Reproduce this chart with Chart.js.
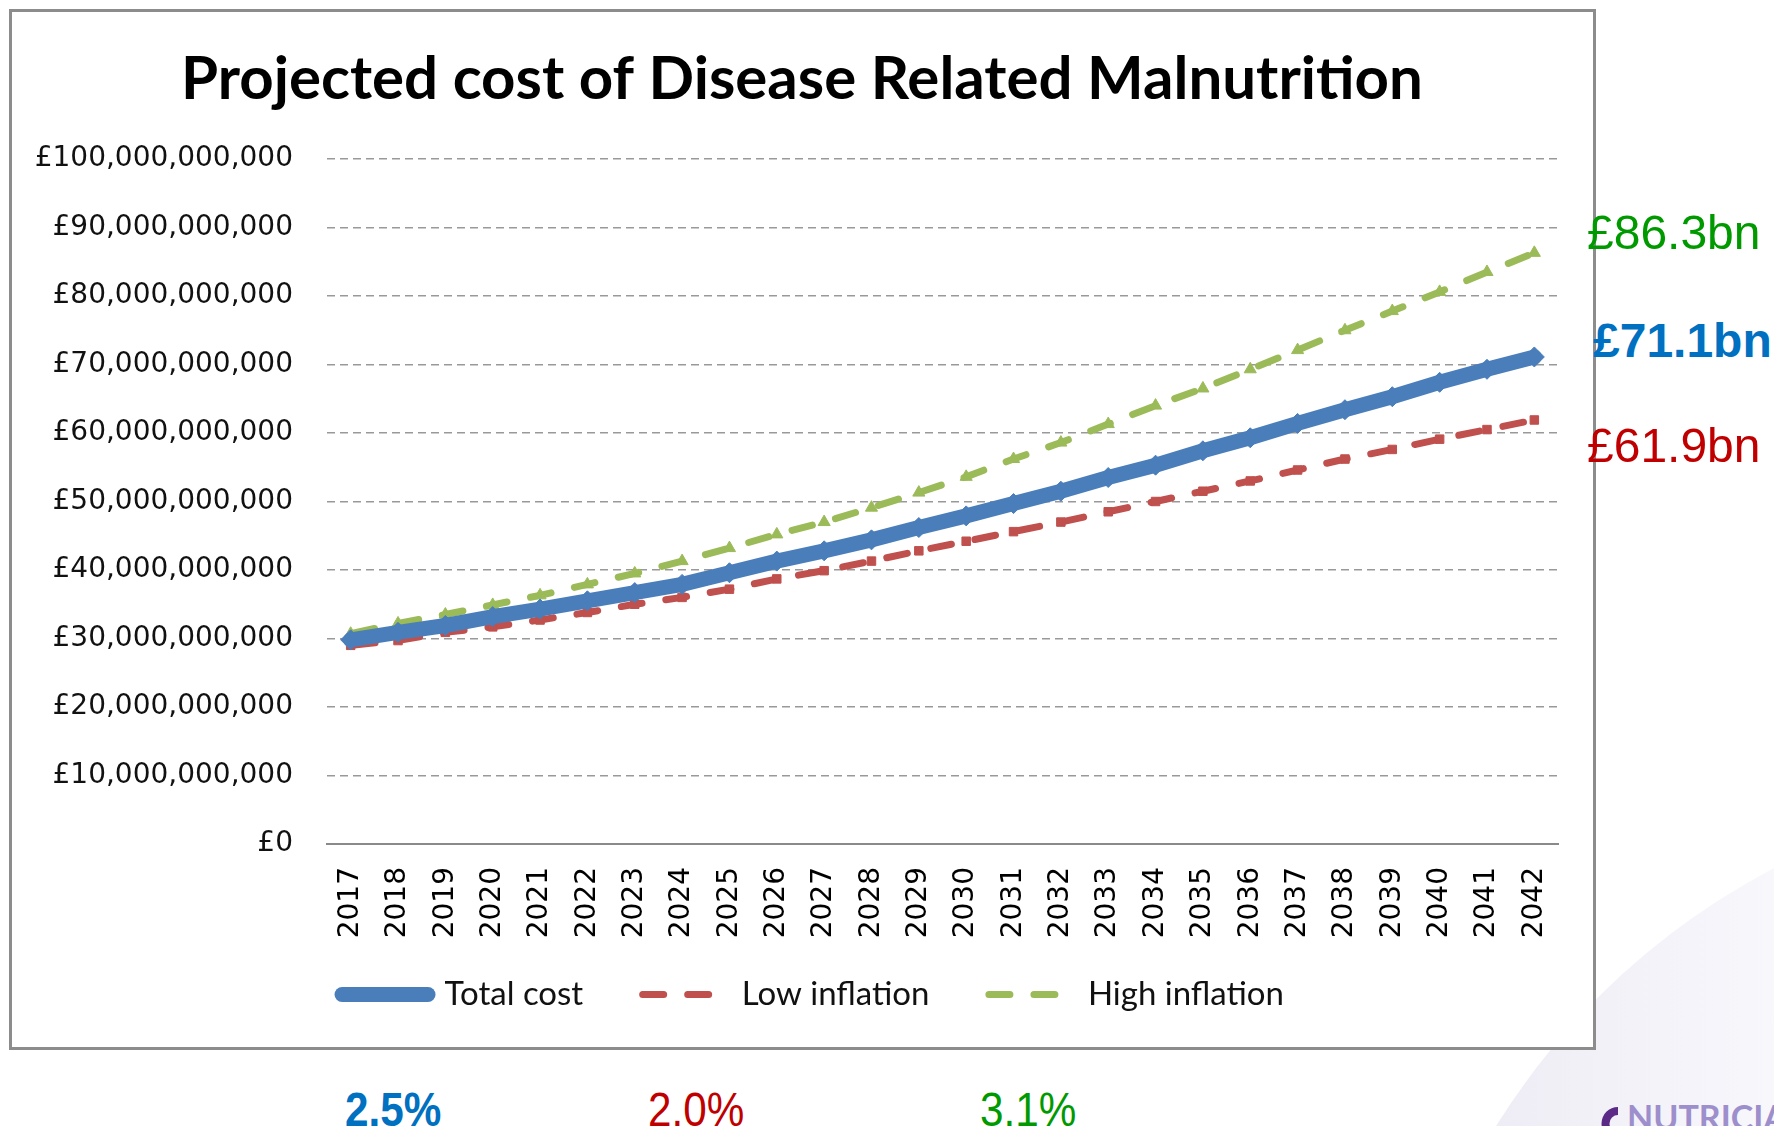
<!DOCTYPE html>
<html>
<head>
<meta charset="utf-8">
<title>Projected cost of Disease Related Malnutrition</title>
<script src="https://cdn.jsdelivr.net/npm/chart.js@4.4.1/dist/chart.umd.min.js"></script>
<style>
  html, body { margin: 0; padding: 0; background: #fff; }
  body { width: 1774px; height: 1126px; position: relative; overflow: hidden; font-family: "Liberation Sans", Arial, sans-serif; }
  #swoosh { position: absolute; left: 0; top: 0; z-index: 0; }
  #frame { position: absolute; left: 9px; top: 9px; width: 1581px; height: 1035px; border: 3px solid #8c8c8c; background: #fff; z-index: 1; }
  .note { position: absolute; font-size: 48px; line-height: 48px; white-space: nowrap; z-index: 2; }
  .rate { transform: scaleX(0.88); transform-origin: left top; }
  #logo { position: absolute; left: 1627px; top: 1097px; font-family: Lato, sans-serif; font-weight: bold; font-size: 34px; line-height: 40px; color: #9d8fcc; z-index: 2; }
</style>
</head>
<body>
<svg id="swoosh" width="1774" height="1126">
  <defs>
    <linearGradient id="lav" x1="0" y1="0" x2="1" y2="0">
      <stop offset="0" stop-color="#eeedf5"/>
      <stop offset="1" stop-color="#f8f7fc"/>
    </linearGradient>
  </defs>
  <path d="M1496,1126 Q1600,960 1774,868 L1774,1126 Z" fill="url(#lav)"/>
  <path d="M1618,1107 A16,16 0 1 0 1618,1140 L1618,1132 A8,8 0 1 1 1618,1115 Z" fill="#5b2a86"/>
</svg>
<div id="frame"><canvas id="costChart"></canvas></div>
<div id="logo">NUTRICIA</div>

<script>
// values in £bn
const years = ['2017', '2018', '2019', '2020', '2021', '2022', '2023', '2024', '2025', '2026', '2027', '2028', '2029',
  '2030', '2031', '2032', '2033', '2034', '2035', '2036', '2037', '2038', '2039', '2040', '2041', '2042'];
const totalCost = [29.8, 30.9, 31.9, 33.2, 34.3, 35.5, 36.7, 37.9, 39.6, 41.3, 42.8, 44.4, 46.2,
  47.9, 49.7, 51.5, 53.5, 55.3, 57.4, 59.3, 61.4, 63.4, 65.3, 67.4, 69.3, 71.1];
const lowInflation = [29.0, 29.7, 30.9, 31.7, 32.7, 33.8, 35.0, 36.0, 37.2, 38.7, 39.9, 41.3, 42.8,
  44.2, 45.6, 47.0, 48.5, 50.0, 51.5, 53.0, 54.6, 56.2, 57.6, 59.1, 60.5, 61.9];
const highInflation = [30.7, 32.2, 33.5, 34.9, 36.3, 37.9, 39.5, 41.3, 43.2, 45.2, 47.0, 49.1, 51.3,
  53.6, 56.2, 58.6, 61.3, 64.0, 66.5, 69.3, 72.1, 75.0, 77.8, 80.6, 83.5, 86.3];
const endLabels = ['£86.3bn', '£71.1bn', '£61.9bn'];
const growthRates = ['2.5%', '2.0%', '3.1%'];

const blue = '#4A7EBB';
const red = '#C0504D';
const green = '#9BBB59';
const toPounds = arr => arr.map(v => v * 1e9);

// side notes and growth rates
const notes = [
  { text: endLabels[0], left: 1587, top: 209, color: '#009a00', bold: false },
  { text: endLabels[1], left: 1593, top: 317, color: '#0070c0', bold: true },
  { text: endLabels[2], left: 1587, top: 422, color: '#c00000', bold: false },
  { text: growthRates[0], left: 345, top: 1086, color: '#0070c0', bold: true, rate: true },
  { text: growthRates[1], left: 648, top: 1086, color: '#c00000', bold: false, rate: true },
  { text: growthRates[2], left: 980, top: 1086, color: '#009a00', bold: false, rate: true }
];
notes.forEach(n => {
  const el = document.createElement('div');
  el.className = 'note' + (n.rate ? ' rate' : '');
  el.textContent = n.text;
  el.style.left = n.left + 'px';
  el.style.top = n.top + 'px';
  el.style.color = n.color;
  el.style.fontWeight = n.bold ? 'bold' : 'normal';
  document.body.appendChild(el);
});

const canvas = document.getElementById('costChart');
canvas.width = 1581;
canvas.height = 1035;
canvas.style.width = '1581px';
canvas.style.height = '1035px';

// legend and title sit a little off the default centre in the original
const nudgeBlocks = {
  id: 'nudgeBlocks',
  afterLayout(chart) {
    const lg = chart.legend;
    lg.left += 56;
    lg.top -= 18;
    lg.bottom -= 18;
    chart.titleBlock.left += 34;
  }
};

new Chart(canvas, {
  type: 'line',
  data: {
    labels: years,
    datasets: [{
      label: 'Total cost',
      data: toPounds(totalCost),
      borderColor: blue,
      backgroundColor: blue,
      borderWidth: 15,
      borderCapStyle: 'round',
      pointStyle: 'rectRot',
      pointRadius: 10,
      pointBorderWidth: 1,
      pointBorderColor: blue,
      pointBackgroundColor: blue,
      tension: 0
    }, {
      label: 'Low inflation',
      data: toPounds(lowInflation),
      borderColor: red,
      backgroundColor: red,
      borderWidth: 7,
      borderDash: [21, 24],
      borderDashOffset: 41.5,
      borderCapStyle: 'round',
      pointStyle: 'rect',
      pointRadius: 6,
      pointBorderWidth: 1,
      pointBorderColor: red,
      pointBackgroundColor: red,
      tension: 0
    }, {
      label: 'High inflation',
      data: toPounds(highInflation),
      borderColor: green,
      backgroundColor: green,
      borderWidth: 7,
      borderDash: [21, 24],
      borderDashOffset: 41.5,
      borderCapStyle: 'round',
      pointStyle: 'triangle',
      pointRadius: 7,
      pointBorderWidth: 1,
      pointBorderColor: green,
      pointBackgroundColor: green,
      tension: 0
    }]
  },
  options: {
    responsive: false,
    animation: false,
    layout: { padding: { top: 0, left: 0, right: 35, bottom: 8 } },
    plugins: {
      title: {
        display: true,
        text: 'Projected cost of Disease Related Malnutrition',
        color: '#000',
        font: { family: 'Lato', weight: 'bold', size: 60 },
        padding: { top: 32, bottom: 43 }
      },
      legend: {
        position: 'bottom',
        labels: {
          usePointStyle: true,
          pointStyleWidth: 86,
          padding: 56,
          color: '#111',
          font: { family: 'Lato', size: 33 },
          generateLabels: chart => Chart.defaults.plugins.legend.labels.generateLabels(chart).map(item => {
            const ds = chart.data.datasets[item.datasetIndex];
            return Object.assign(item, {
              pointStyle: 'line',
              lineWidth: ds.borderWidth,
              lineDash: ds.borderDash || [],
              lineDashOffset: ds.borderDashOffset || 0,
              lineCap: ds.borderCapStyle,
              strokeStyle: ds.borderColor
            });
          })
        }
      },
      tooltip: { enabled: false }
    },
    scales: {
      x: {
        offset: true,
        grid: { display: false, drawTicks: false },
        border: { display: true, color: '#8a8a8a', width: 2 },
        ticks: {
          autoSkip: false,
          minRotation: 90,
          maxRotation: 90,
          padding: 23,
          color: '#000',
          font: { family: 'DejaVu Sans', size: 28 }
        },
        afterFit: scale => { scale.height = 96; }
      },
      y: {
        min: 0,
        max: 100e9,
        grid: { color: '#999', lineWidth: 1.5, drawTicks: false },
        border: { display: false, dash: [8, 5] },
        ticks: {
          stepSize: 10e9,
          padding: 34,
          color: '#111',
          font: { family: 'DejaVu Sans', size: 28 },
          callback: v => '£' + Number(v).toLocaleString('en-GB')
        },
        afterFit: scale => { scale.width = 315; }
      }
    }
  },
  plugins: [nudgeBlocks]
});
</script>
</body>
</html>
